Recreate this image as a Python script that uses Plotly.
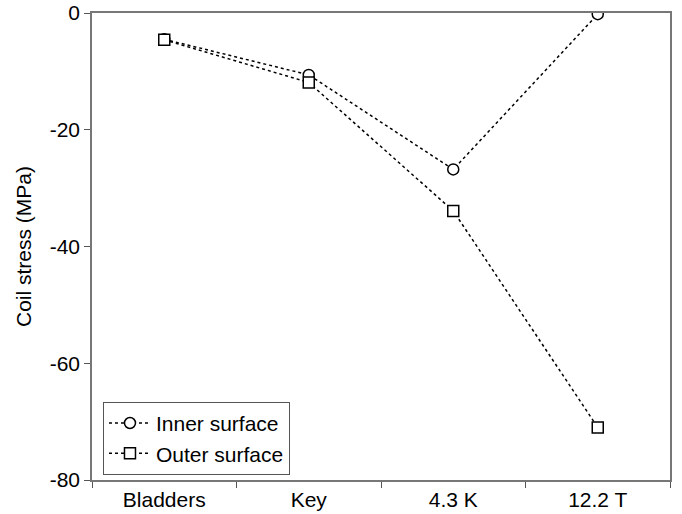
import plotly.graph_objects as go

categories = ["Bladders", "Key", "4.3 K", "12.2 T"]
inner = [-4.5, -10.6, -26.8, -0.2]
outer = [-4.6, -11.9, -33.9, -71.0]
yticks = [0, -20, -40, -60, -80]
yticklabels = ["0", "-20", "-40", "-60", "-80"]

fig = go.Figure()
fig.add_trace(go.Scatter(
    x=categories, y=inner, name="Inner surface", mode="lines+markers",
    line=dict(color="black", width=1.5, dash="dot"),
    marker=dict(symbol="circle", size=11, color="white", line=dict(width=1.5, color="black")),
))
fig.add_trace(go.Scatter(
    x=categories, y=outer, name="Outer surface", mode="lines+markers",
    line=dict(color="black", width=1.5, dash="dot"),
    marker=dict(symbol="square", size=11, color="white", line=dict(width=1.5, color="black")),
))

fam = "Liberation Sans, Arial, sans-serif"
fig.update_layout(
    width=682, height=514,
    margin=dict(l=92, r=12, t=13, b=34),
    plot_bgcolor="white", paper_bgcolor="white",
    font=dict(family=fam, size=21, color="black"),
    showlegend=True,
    legend=dict(
        x=0.019, y=0.011, xanchor="left", yanchor="bottom",
        bordercolor="#555", borderwidth=1, bgcolor="white",
        font=dict(family=fam, size=21, color="black"),
        tracegroupgap=0, itemwidth=42,
    ),
    xaxis=dict(
        type="category", range=[-0.5, 3.5], automargin=False,
        showline=True, linecolor="#777", linewidth=1.5, mirror=True,
        ticks="outside", tickson="boundaries", ticklen=6, tickcolor="#555",
        showgrid=False, zeroline=False,
        tickfont=dict(size=21),
    ),
    yaxis=dict(
        range=[-80, 0], tickvals=yticks, ticktext=yticklabels, automargin=False,
        showline=True, linecolor="#777", linewidth=1.5, mirror=True,
        ticks="outside", ticklen=6, tickcolor="#555",
        showgrid=False, zeroline=False,
        title=dict(text="Coil stress (MPa)", font=dict(size=21), standoff=12),
        tickfont=dict(size=21),
    ),
)
fig.write_html(
    "out.html",
    config={"displayModeBar": False},
    post_script="document.body.style.margin='0';document.body.style.overflow='hidden';",
)
